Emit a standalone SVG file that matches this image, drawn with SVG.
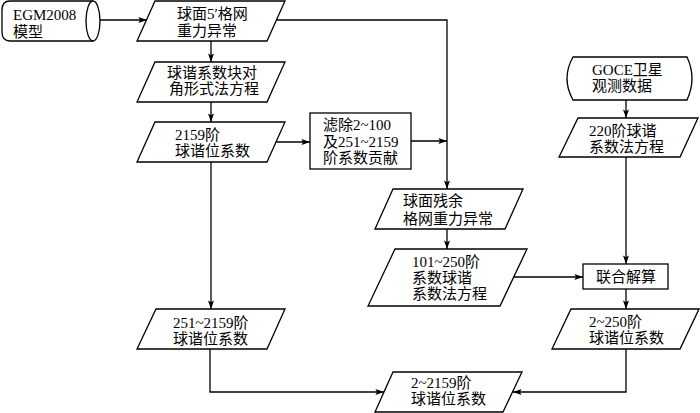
<svg xmlns="http://www.w3.org/2000/svg" width="700" height="413" viewBox="0 0 700 413">
<style>
.s{fill:#fff;stroke:#000;stroke-width:1.3;stroke-linejoin:miter}
.c{fill:none;stroke:#000;stroke-width:1.3}
text{font-family:"Liberation Serif","Noto Sans CJK SC",serif;font-size:15px;fill:#000}
.m{text-anchor:middle}
</style>
<defs>
<marker id="ah" viewBox="0 0 10 7" refX="10" refY="3.5" markerWidth="9" markerHeight="6" markerUnits="userSpaceOnUse" orient="auto">
<path d="M0,0 L10,3.5 L0,7 L2,3.5 z" fill="#000"/>
</marker>
</defs>
<rect width="700" height="413" fill="#fff"/>
<g id="connectors" class="c" marker-end="url(#ah)">
<path d="M95,20 H147"/>
<path d="M211,41 V62"/>
<path d="M211,102 V122"/>
<path d="M276,142 H310"/>
<path d="M411,141 H447"/>
<path d="M276,20 H447 V189"/>
<path d="M447,229 V249"/>
<path d="M514,277 H583"/>
<path d="M626,100 V118"/>
<path d="M626,157 V264"/>
<path d="M626,289 V309"/>
<path d="M211,162 V309"/>
<path d="M210,349 V392 H384"/>
<path d="M626,349 V392 H513"/>
</g>
<g id="egm2008">
<path class="s" d="M93,1 H10 Q2,1 2,10 V32 Q2,41 10,41 H93"/>
<ellipse class="s" cx="93" cy="21" rx="7" ry="20"/>
<text x="13" y="20">EGM2008</text>
<text x="13" y="37">模型</text>
</g>
<g id="grid-anomaly">
<polygon class="s" points="155,1 285,1 267,41 137,41"/>
<text x="177" y="19">球面5′格网</text>
<text x="177" y="36">重力异常</text>
</g>
<g id="block-diag">
<polygon class="s" points="155,62 285,62 267,102 137,102"/>
<text x="167" y="78">球谐系数块对</text>
<text x="169" y="94">角形式法方程</text>
</g>
<g id="coef-2159">
<polygon class="s" points="155,122 285,122 267,162 137,162"/>
<text x="175" y="140">2159阶</text>
<text x="175" y="156">球谐位系数</text>
</g>
<g id="filter">
<rect class="s" x="310" y="113" width="101" height="56"/>
<text x="323" y="130">滤除2~100</text>
<text x="323" y="147">及251~2159</text>
<text x="323" y="163">阶系数贡献</text>
</g>
<g id="residual">
<polygon class="s" points="393,189 523,189 505,229 375,229"/>
<text x="403" y="206">球面残余</text>
<text x="403" y="224">格网重力异常</text>
</g>
<g id="eq-101-250">
<polygon class="s" points="395,249 527,249 500,306 368,306"/>
<text x="412" y="267">101~250阶</text>
<text x="412" y="283">系数球谐</text>
<text x="412" y="299">系数法方程</text>
</g>
<g id="goce">
<path class="s" d="M573,57 H687 Q697,78.5 687,100 H573 Q561,78.5 573,57 z"/>
<text x="592" y="75">GOCE卫星</text>
<text x="592" y="91">观测数据</text>
</g>
<g id="eq-220">
<polygon class="s" points="578,118 698,118 680,157 559,157"/>
<text x="589" y="136">220阶球谐</text>
<text x="589" y="152">系数法方程</text>
</g>
<g id="joint">
<rect class="s" x="583" y="264" width="85" height="25"/>
<text class="m" x="626" y="282">联合解算</text>
</g>
<g id="coef-2-250">
<polygon class="s" points="571,309 699,309 680,349 552,349"/>
<text x="589" y="327">2~250阶</text>
<text x="589" y="343">球谐位系数</text>
</g>
<g id="coef-251-2159">
<polygon class="s" points="156,309 285,309 267,349 137,349"/>
<text x="173" y="328">251~2159阶</text>
<text x="173" y="344">球谐位系数</text>
</g>
<g id="coef-2-2159">
<polygon class="s" points="393,372 522,372 503,412 375,412"/>
<text x="411" y="388">2~2159阶</text>
<text x="411" y="404">球谐位系数</text>
</g>
</svg>
